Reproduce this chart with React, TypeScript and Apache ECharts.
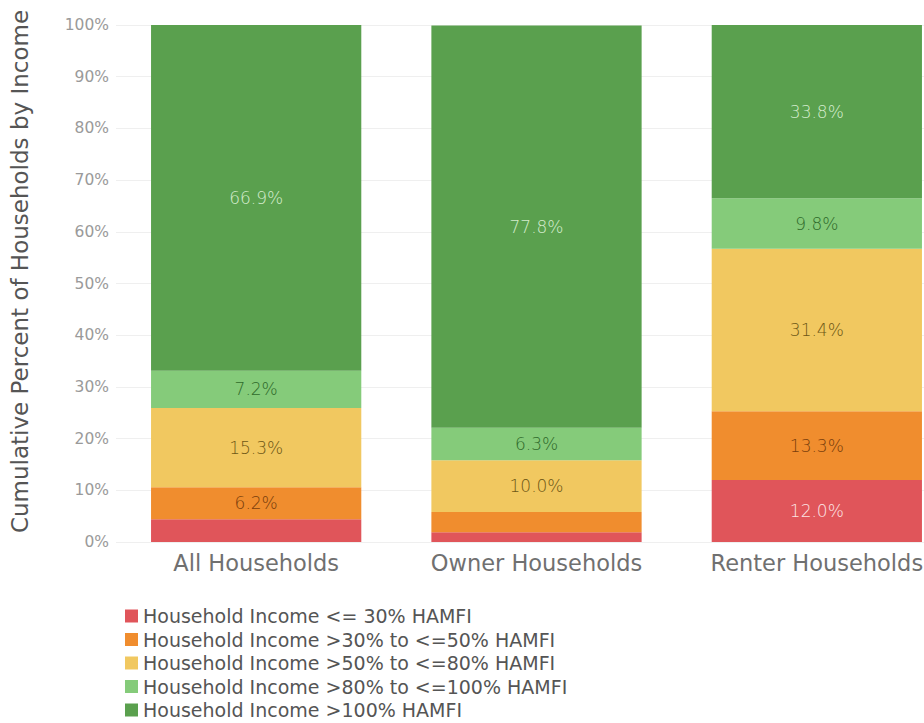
import React, { useEffect, useRef } from "react";
import * as echarts from "echarts";

const categories = ["All Households", "Owner Households", "Renter Households"];
const seriesNames = [
  "Household Income <= 30% HAMFI",
  "Household Income >30% to <=50% HAMFI",
  "Household Income >50% to <=80% HAMFI",
  "Household Income >80% to <=100% HAMFI",
  "Household Income >100% HAMFI",
];
const le30 = [4.4, 1.9, 12.0];
const from30to50 = [6.2, 3.9, 13.3];
const from50to80 = [15.3, 10.0, 31.4];
const from80to100 = [7.2, 6.3, 9.8];
const over100 = [66.9, 77.8, 33.8];
const yTicks = [0, 10, 20, 30, 40, 50, 60, 70, 80, 90, 100];

const colors = ["#E0555A", "#F08D2E", "#F1C860", "#85CB7A", "#5AA04E"];
const labelColors = ["#FCE4E4", "#7A3E0C", "#6E5716", "#2F6A2A", "#D4ECCD"];

const FONT = "DejaVu Sans";

export default function App() {
  const ref = useRef<HTMLDivElement>(null);
  useEffect(() => {
    if (!ref.current) return;
    const chart = echarts.init(ref.current, undefined, { renderer: "svg" });
    const values = [le30, from30to50, from50to80, from80to100, over100];
    chart.setOption({
      animation: false,
      backgroundColor: "#ffffff",
      textStyle: { fontFamily: FONT },
      legend: {
        orient: "vertical",
        left: 125,
        top: 606,
        height: 117,
        padding: 0,
        itemWidth: 13,
        itemHeight: 13,
        itemGap: 3.5,
        icon: "rect",
        textStyle: { fontFamily: FONT, fontSize: 19, lineHeight: 20, color: "#555555" },
        data: seriesNames,
      },
      grid: { left: 114, top: 25, width: 843, height: 517, containLabel: false },
      xAxis: {
        type: "category",
        data: categories,
        axisLine: { show: false },
        axisTick: { show: false },
        axisLabel: { fontFamily: FONT, fontSize: 22.5, color: "#707070", margin: 9 },
      },
      yAxis: {
        type: "value",
        min: yTicks[0],
        max: yTicks[yTicks.length - 1],
        interval: 10,
        name: "Cumulative Percent of Households by Income",
        nameLocation: "middle",
        nameGap: 85,
        nameTextStyle: { fontFamily: FONT, fontSize: 23, color: "#555555", padding: [0, 0, 0, 24] },
        axisLine: { show: false },
        axisTick: { show: false },
        axisLabel: { fontFamily: FONT, fontSize: 15.5, color: "#9a9a9a", formatter: "{value}%", margin: 7 },
        splitLine: { lineStyle: { color: "#efefef", width: 1 } },
      },
      series: values.map((arr, i) => ({
        name: seriesNames[i],
        type: "bar",
        stack: "total",
        barCategoryGap: "25%",
        itemStyle: { color: colors[i] },
        label: {
          show: true,
          position: "inside",
          fontFamily: FONT,
          fontSize: 17,
          fontWeight: 300,
          color: labelColors[i],
          formatter: (p: any) => (p.value >= 5 ? p.value.toFixed(1) + "%" : ""),
        },
        data: arr,
      })),
    });
    return () => chart.dispose();
  }, []);
  return (
    <div style={{ position: "fixed", left: 0, top: 0, width: 924, height: 723, overflow: "hidden", background: "#fff" }}>
      <div ref={ref} style={{ width: 960, height: 723 }} />
    </div>
  );
}
